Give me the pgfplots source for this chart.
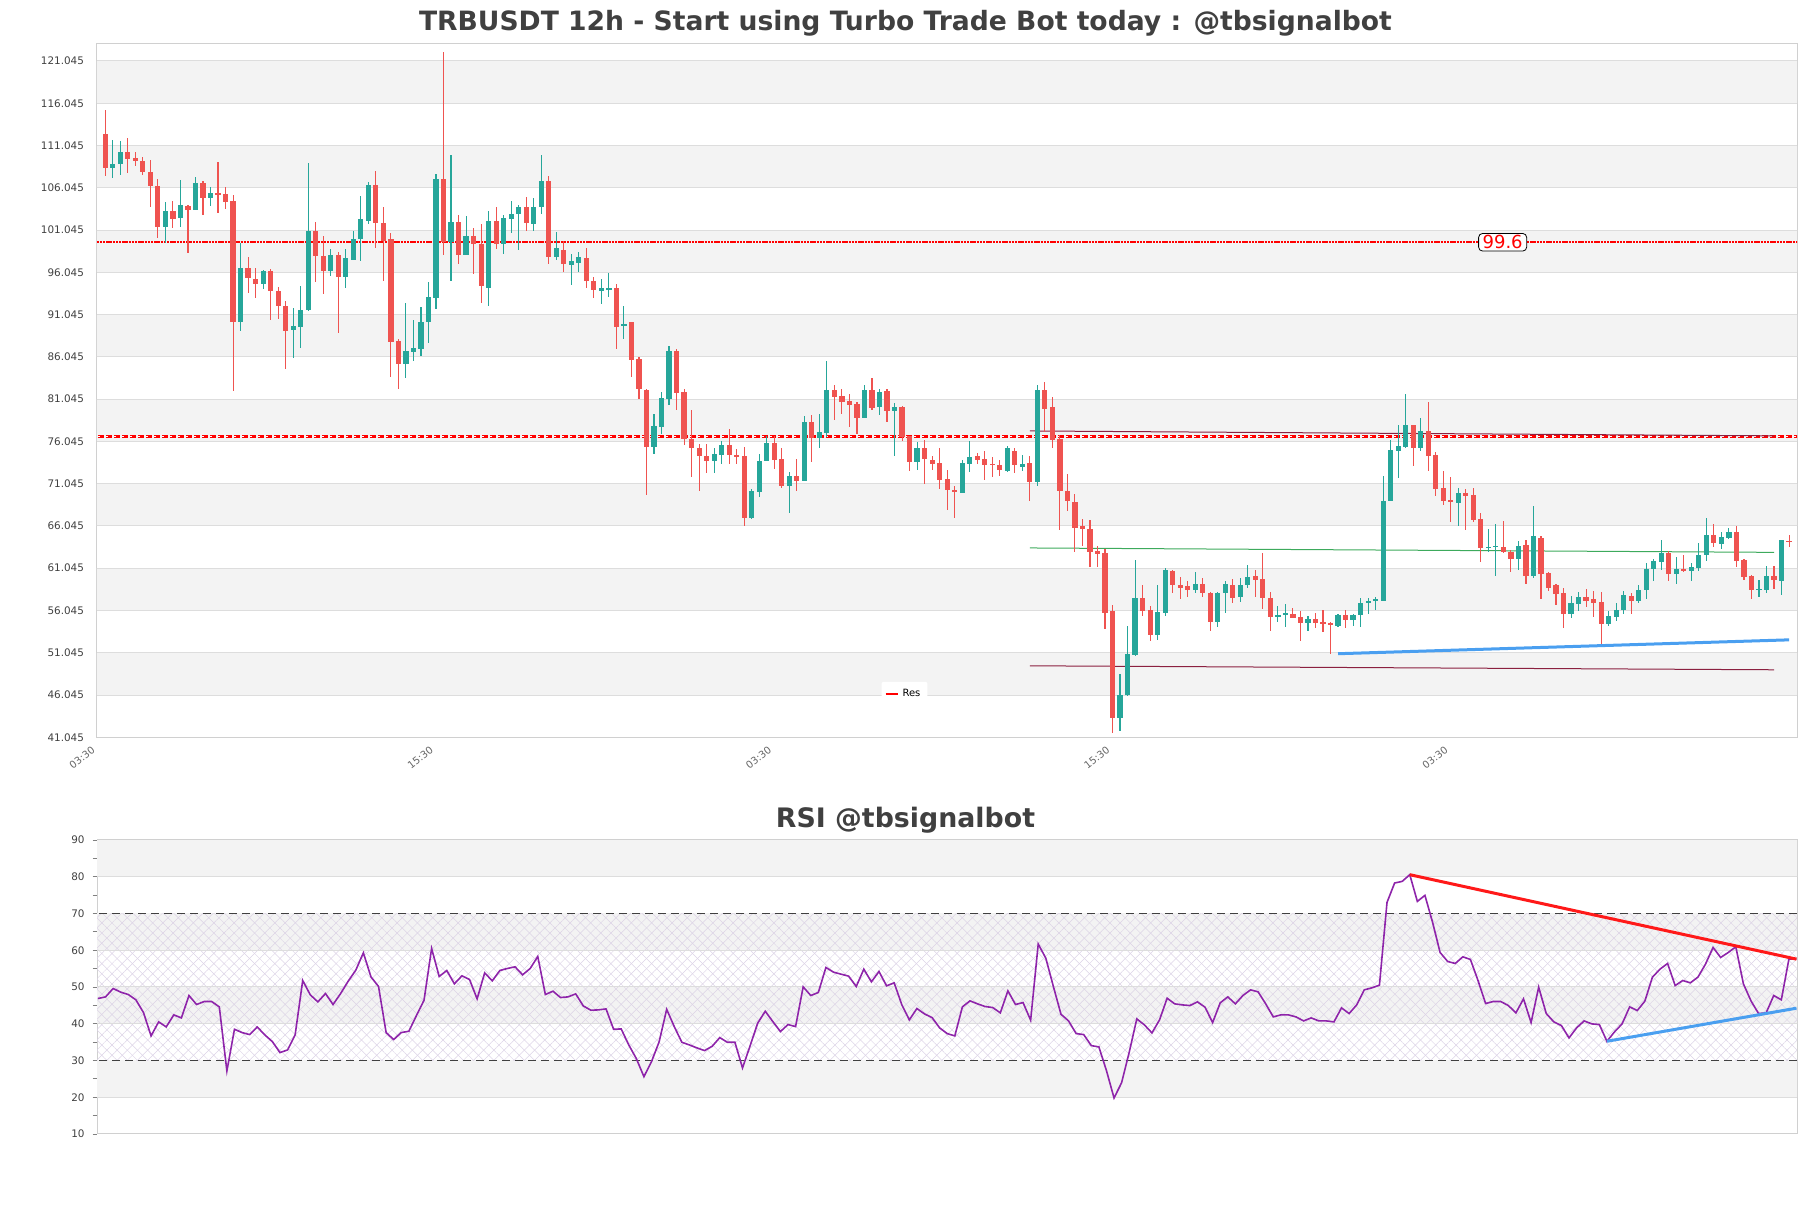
\documentclass[border=0pt]{standalone}
\usepackage{fontspec}
\setmainfont{DejaVu Sans}
\usepackage{pgfplots}
\usepackage{pgfplotstable}
\pgfplotsset{compat=1.18}
\usetikzlibrary{patterns.meta}
\definecolor{cgreen}{HTML}{26A69A}
\definecolor{cred}{HTML}{EF5350}
\definecolor{bandgray}{HTML}{F3F3F3}
\definecolor{gridc}{HTML}{DDDDDD}
\definecolor{framec}{HTML}{D0D0D0}
\definecolor{titlec}{HTML}{404040}
\definecolor{rsic}{HTML}{8E24AA}
\definecolor{maroonl}{HTML}{8B2040}
\definecolor{greenl}{HTML}{3DAA5C}
\definecolor{bluel}{HTML}{4A9FF0}
\definecolor{hatchc}{HTML}{DCD3E6}

\pgfplotstableread{
i o h l c
0 112.39 115.19 107.43 108.43
1 108.43 111.70 107.16 108.85
2 108.90 111.60 107.53 110.28
3 110.28 111.91 107.85 109.49
4 109.59 110.22 108.64 109.17
5 109.27 109.70 107.53 107.95
6 107.90 109.33 103.73 106.21
7 106.26 107.06 100.14 101.46
8 101.46 104.36 99.51 103.31
9 103.31 104.47 101.25 102.30
10 102.46 106.95 101.35 103.99
11 103.89 103.99 98.29 103.47
12 103.47 107.32 103.47 106.63
13 106.63 106.90 102.78 104.79
14 104.79 106.16 103.94 105.42
15 105.37 109.12 103.10 105.26
16 105.26 106.16 103.52 104.42
17 104.47 105.16 81.97 90.11
18 90.11 99.51 89.16 96.55
19 96.55 97.87 93.54 95.34
20 95.28 96.55 93.01 94.70
21 94.70 96.29 94.12 96.23
22 96.23 96.39 90.37 93.80
23 93.86 94.33 90.58 92.01
24 92.06 92.64 84.56 89.16
25 89.26 91.85 85.94 89.69
26 89.63 94.44 87.15 91.59
27 91.53 109.01 91.43 100.93
28 100.93 101.99 94.91 97.92
29 97.92 100.35 93.43 96.23
30 96.23 98.82 95.55 98.08
31 98.08 98.40 88.89 95.44
32 95.44 98.82 94.17 97.76
33 97.55 100.93 97.50 99.98
34 99.93 105.05 97.34 102.36
35 102.15 106.69 101.78 106.37
36 106.37 108.01 98.87 101.88
37 101.83 103.73 95.07 99.77
38 99.98 100.72 83.67 87.84
39 87.89 88.15 82.19 85.25
40 85.25 92.38 83.56 86.73
41 86.57 90.42 85.51 87.04
42 86.94 91.96 86.15 90.16
43 90.11 94.91 87.63 93.12
44 93.06 107.69 91.69 107.11
45 107.11 122.05 98.13 99.61
46 99.61 109.91 94.97 101.99
47 101.99 102.78 96.97 98.13
48 98.13 102.73 98.10 100.35
49 100.35 101.25 95.81 99.40
50 99.40 101.78 92.43 94.38
51 94.23 103.31 92.11 102.15
52 102.15 103.78 98.82 99.35
53 99.35 102.83 98.24 102.52
54 102.41 104.47 100.72 102.94
55 102.89 103.99 98.71 103.78
56 103.78 104.94 100.93 101.83
57 101.72 104.79 100.93 103.78
58 103.73 109.91 102.94 106.85
59 106.85 107.48 97.08 97.82
60 97.82 100.83 97.50 98.87
61 98.71 99.77 96.13 96.97
62 96.97 98.24 94.60 97.34
63 97.18 98.50 96.07 97.82
64 97.76 98.92 94.23 94.97
65 95.02 95.55 93.06 93.91
66 93.80 95.28 92.27 94.17
67 94.07 95.97 93.17 94.17
68 94.17 94.70 86.94 89.63
69 89.69 92.11 88.21 89.95
70 90.11 90.21 83.61 85.73
71 85.78 85.99 81.08 82.19
72 82.14 82.24 69.67 75.43
73 75.43 79.28 74.53 77.91
74 77.80 81.92 76.96 81.13
75 81.03 87.36 80.34 86.68
76 86.78 86.99 79.81 81.82
77 81.92 82.19 75.59 76.33
78 76.38 79.76 71.89 75.22
79 75.32 75.69 70.15 74.27
80 74.32 75.75 72.26 73.69
81 73.69 75.22 72.26 74.58
82 74.48 76.06 73.32 75.64
83 75.64 77.54 73.42 74.43
84 74.37 75.11 73.42 74.27
85 74.32 75.38 66.03 67.03
86 67.03 70.47 66.88 70.20
87 70.10 74.53 69.41 73.69
88 73.69 76.64 73.69 75.85
89 75.85 76.64 72.79 73.90
90 74.00 75.27 70.52 70.73
91 70.73 72.42 67.56 71.98
92 71.95 73.95 70.20 71.42
93 71.36 79.07 71.31 78.33
94 78.33 79.18 73.63 76.49
95 76.43 79.28 75.22 77.12
96 77.07 85.51 76.59 82.14
97 82.14 82.72 78.54 81.29
98 81.45 82.24 79.28 80.71
99 80.87 81.66 77.80 80.34
100 80.50 80.66 76.96 78.86
101 78.81 82.77 78.76 82.14
102 82.14 83.56 79.81 80.02
103 80.08 82.24 79.18 81.92
104 82.03 82.24 78.39 79.60
105 79.60 80.55 74.27 80.08
106 80.08 80.18 76.12 76.54
107 76.64 76.64 72.58 73.58
108 73.58 76.01 72.63 75.32
109 75.32 76.22 71.05 73.95
110 73.90 74.37 72.63 73.42
111 73.48 75.22 70.41 71.52
112 71.63 72.68 67.98 70.31
113 70.31 70.73 66.93 70.04
114 69.99 73.90 69.89 73.53
115 73.42 76.12 72.37 74.21
116 74.27 74.69 73.37 73.79
117 74.00 74.90 71.52 73.26
118 73.37 74.21 71.84 73.26
119 73.26 73.90 72.00 72.63
120 72.58 75.53 72.47 75.22
121 74.95 75.32 72.31 73.21
122 73.06 74.43 72.53 73.42
123 73.48 74.27 69.04 71.20
124 71.26 82.72 70.73 82.08
125 82.08 83.03 77.17 79.92
126 80.08 81.29 75.27 76.17
127 76.38 76.86 65.61 70.20
128 70.20 72.21 67.83 68.99
129 68.88 69.78 62.97 65.77
130 65.98 66.82 63.71 65.66
131 65.71 66.77 61.23 62.92
132 63.07 63.71 61.23 62.70
133 62.81 63.34 53.83 55.79
134 55.95 56.69 41.53 43.33
135 43.33 48.55 41.80 46.07
136 46.02 54.20 45.97 50.88
137 50.82 62.02 50.67 57.58
138 57.58 59.01 55.37 56.00
139 56.11 56.63 52.41 53.15
140 53.15 59.01 52.51 55.90
141 55.74 61.07 55.42 60.80
142 60.70 60.80 58.11 59.01
143 59.11 60.01 57.37 58.75
144 58.96 59.48 57.58 58.48
145 58.48 60.59 58.06 59.22
146 59.22 59.85 57.63 58.06
147 58.16 58.27 53.62 54.63
148 54.63 58.27 54.10 58.11
149 58.06 59.48 55.79 59.17
150 59.11 59.75 56.90 57.53
151 57.63 59.91 57.00 59.11
152 59.01 61.38 58.75 60.01
153 60.07 60.86 57.63 59.64
154 59.80 62.86 56.21 57.53
155 57.58 58.22 53.67 55.31
156 55.31 56.58 54.63 55.53
157 55.53 56.79 54.05 55.68
158 55.63 56.32 55.10 55.21
159 55.31 55.95 52.41 54.57
160 54.57 55.42 53.67 55.00
161 55.00 55.79 53.94 54.57
162 54.68 56.05 53.46 54.52
163 54.52 54.73 50.93 54.31
164 54.26 55.68 54.05 55.53
165 55.53 56.05 53.94 54.89
166 54.89 55.68 54.26 55.53
167 55.53 57.53 54.10 56.90
168 56.90 57.53 55.63 57.21
169 57.11 57.69 56.16 57.37
170 57.21 71.95 57.16 68.99
171 68.99 76.27 68.99 75.06
172 74.95 77.96 71.73 75.53
173 75.38 81.66 75.22 78.02
174 78.02 78.02 73.11 75.22
175 75.22 78.76 74.95 77.22
176 77.22 80.66 72.58 74.27
177 74.43 74.80 69.57 70.36
178 70.52 72.52 68.51 68.99
179 69.15 71.79 66.51 68.88
180 68.72 70.52 65.98 69.89
181 69.94 70.47 65.56 69.62
182 69.68 70.52 66.51 66.77
183 66.88 67.56 61.76 63.44
184 63.44 65.66 62.92 63.60
185 63.55 66.24 60.17 63.71
186 63.60 66.66 62.81 62.92
187 62.97 63.18 60.54 62.13
188 62.13 64.29 60.86 63.71
189 63.81 64.34 59.22 60.17
190 60.17 68.46 59.91 64.82
191 64.66 64.82 57.37 60.33
192 60.43 60.59 58.32 58.75
193 59.01 59.17 56.74 57.95
194 58.06 58.69 53.94 55.58
195 55.58 57.79 55.15 56.90
196 56.85 58.22 55.95 57.63
197 57.69 58.64 56.48 57.21
198 57.37 58.32 55.31 56.90
199 57.05 58.22 51.99 54.47
200 54.47 55.95 54.20 55.42
201 55.31 56.90 54.79 56.11
202 56.05 58.32 55.68 57.90
203 57.79 58.16 55.68 57.16
204 57.21 59.01 56.90 58.48
205 58.43 61.65 57.42 60.96
206 60.96 62.13 59.59 61.86
207 61.76 64.34 60.80 62.81
208 62.81 63.07 59.48 60.33
209 60.33 62.39 59.22 60.96
210 60.96 62.55 60.54 60.70
211 60.75 61.65 59.48 61.23
212 61.12 64.03 60.70 62.60
213 62.55 66.98 61.86 64.92
214 64.92 66.24 63.50 63.97
215 63.87 65.29 63.28 64.76
216 64.66 65.82 64.55 65.34
217 65.34 65.98 61.23 61.86
218 62.02 62.13 59.64 60.01
219 60.17 60.28 57.42 58.43
220 58.48 59.64 57.69 58.59
221 58.48 61.33 58.06 60.07
222 60.07 61.33 58.59 59.64
223 59.59 64.39 57.90 64.34
224 64.29 64.92 63.50 64.13
}\candles

\begin{document}
\begin{tikzpicture}
\useasboundingbox (0,0) rectangle (905.5pt,604pt);
\node[font=\fontsize{13.3}{15}\selectfont\bfseries, text=titlec] at (452.75pt,592.5pt) {TRBUSDT 12h - Start using Turbo Trade Bot today : @tbsignalbot};
\node[font=\fontsize{13.4}{15}\selectfont\bfseries, text=titlec] at (452.75pt,194pt) {RSI @tbsignalbot};

\begin{axis}[
  at={(48.5pt,235.35pt)}, anchor=south west, scale only axis,
  width=850pt, height=346.85pt,
  xmin=-1.1, xmax=225.06, ymin=41.045, ymax=123.1,
  axis line style={framec, line width=0.5pt},
  ytick={41.045,46.045,51.045,56.045,61.045,66.045,71.045,76.045,81.045,86.045,91.045,96.045,101.045,106.045,111.045,116.045,121.045},
  yticklabels={41.045,46.045,51.045,56.045,61.045,66.045,71.045,76.045,81.045,86.045,91.045,96.045,101.045,106.045,111.045,116.045,121.045},
  xtick={-1,44,89,134,179},
  xticklabels={03:30,15:30,03:30,15:30,03:30},
  major tick length=0pt,
  /pgf/number format/assume math mode=true,
  yticklabel style={font=\fontsize{5.2}{6}\selectfont, text=titlec, xshift=-3pt},
  xticklabel style={font=\fontsize{5}{6}\selectfont, text=titlec!80, rotate=38, anchor=north east, inner sep=1pt, xshift=-4pt},
  legend style={at={(0.475,0.0624)}, anchor=center, draw=none, fill=white, font=\fontsize{5}{6}\selectfont, inner sep=1.5pt, rounded corners=1pt},
  legend image code/.code={\draw[#1] (0pt,0pt) -- (6pt,0pt);},
]
\fill[bandgray] (axis cs:-5,116.045) rectangle (axis cs:230,121.045);
\fill[bandgray] (axis cs:-5,106.045) rectangle (axis cs:230,111.045);
\fill[bandgray] (axis cs:-5,96.045) rectangle (axis cs:230,101.045);
\fill[bandgray] (axis cs:-5,86.045) rectangle (axis cs:230,91.045);
\fill[bandgray] (axis cs:-5,76.045) rectangle (axis cs:230,81.045);
\fill[bandgray] (axis cs:-5,66.045) rectangle (axis cs:230,71.045);
\fill[bandgray] (axis cs:-5,56.045) rectangle (axis cs:230,61.045);
\fill[bandgray] (axis cs:-5,46.045) rectangle (axis cs:230,51.045);
\pgfplotsinvokeforeach{46.045,51.045,56.045,61.045,66.045,71.045,76.045,81.045,86.045,91.045,96.045,101.045,106.045,111.045,116.045,121.045}{
  \draw[gridc, line width=0.5pt] (axis cs:-5,#1) -- (axis cs:230,#1);
}
\addlegendimage{red, line width=1pt}
\addlegendentry{Res}
\addplot[red, line width=1pt, dash pattern=on 1.2pt off 0.4pt, forget plot] coordinates {(-2,99.6) (226,99.6)};
\addplot[red, line width=1.4pt, dash pattern=on 3pt off 1pt, forget plot] coordinates {(-2,76.6) (226,76.6)};
\addplot[white, line width=0.45pt, dash pattern=on 1pt off 3pt, forget plot] coordinates {(-2,76.6) (226,76.6)};
\addplot[maroonl, line width=0.5pt, forget plot] coordinates {(123,77.28) (222,76.7)};
\addplot[greenl, line width=0.5pt, forget plot] coordinates {(123,63.44) (222,62.92)};
\addplot[maroonl, line width=0.5pt, forget plot] coordinates {(123,49.5) (222,49.03)};
% wicks
\addplot[draw=none, mark=none, forget plot,
  restrict expr to domain={\thisrow{c}-\thisrow{o}}{0:1000},
  error bars/.cd, y dir=both, y explicit, error mark=none,
  error bar style={line width=0.55pt, draw=cgreen}]
  table[x=i, y expr={(\thisrow{h}+\thisrow{l})/2}, y error expr={(\thisrow{h}-\thisrow{l})/2}] {\candles};
\addplot[draw=none, mark=none, forget plot,
  restrict expr to domain={\thisrow{c}-\thisrow{o}}{-1000:-0.00001},
  error bars/.cd, y dir=both, y explicit, error mark=none,
  error bar style={line width=0.55pt, draw=cred}]
  table[x=i, y expr={(\thisrow{h}+\thisrow{l})/2}, y error expr={(\thisrow{h}-\thisrow{l})/2}] {\candles};
% bodies
\addplot[draw=none, mark=none, forget plot,
  restrict expr to domain={\thisrow{c}-\thisrow{o}}{0:1000},
  error bars/.cd, y dir=both, y explicit, error mark=none,
  error bar style={line width=2.6pt, draw=cgreen}]
  table[x=i, y expr={(\thisrow{o}+\thisrow{c})/2}, y error expr={max(abs(\thisrow{c}-\thisrow{o})/2,0.09)}] {\candles};
\addplot[draw=none, mark=none, forget plot,
  restrict expr to domain={\thisrow{c}-\thisrow{o}}{-1000:-0.00001},
  error bars/.cd, y dir=both, y explicit, error mark=none,
  error bar style={line width=2.6pt, draw=cred}]
  table[x=i, y expr={(\thisrow{o}+\thisrow{c})/2}, y error expr={max(abs(\thisrow{c}-\thisrow{o})/2,0.09)}] {\candles};
\addplot[bluel, line width=1.5pt, forget plot] coordinates {(164,50.93) (224,52.57)};
\node[draw=black, line width=0.4pt, rounded corners=2pt, fill=white, text=red, font=\fontsize{9}{10}\selectfont, inner sep=1pt, inner xsep=2pt] at (axis cs:185.9,99.6) {99.6};
\end{axis}

\begin{axis}[
  at={(48.5pt,37pt)}, anchor=south west, scale only axis,
  width=850pt, height=147pt,
  xmin=-0.13, xmax=224.07, ymin=10, ymax=90,
  axis line style={framec, line width=0.5pt},
  xtick=\empty,
  ytick={10,20,...,90}, minor ytick={15,25,...,85},
  ytick pos=left, tick align=outside,
  major tick length=2.2pt, minor tick length=2.2pt,
  tick style={color=gray, line width=0.4pt},
  /pgf/number format/assume math mode=true,
  yticklabel style={font=\fontsize{5.2}{6}\selectfont, text=titlec, xshift=-0.5pt},
]
\fill[bandgray] (axis cs:-5,80) rectangle (axis cs:230,90);
\fill[bandgray] (axis cs:-5,60) rectangle (axis cs:230,70);
\fill[bandgray] (axis cs:-5,40) rectangle (axis cs:230,50);
\fill[bandgray] (axis cs:-5,20) rectangle (axis cs:230,30);
\fill[pattern={Lines[angle=45,distance=3.6pt,line width=0.25pt]}, pattern color=hatchc] (axis cs:-5,30) rectangle (axis cs:230,70);
\fill[pattern={Lines[angle=-45,distance=3.6pt,line width=0.25pt]}, pattern color=hatchc] (axis cs:-5,30) rectangle (axis cs:230,70);
\pgfplotsinvokeforeach{20,40,50,60,80}{
  \draw[gridc, line width=0.5pt] (axis cs:-5,#1) -- (axis cs:230,#1);
}
\draw[black!75, line width=0.5pt, dash pattern=on 4pt off 2.5pt] (axis cs:-5,70) -- (axis cs:230,70);
\draw[black!75, line width=0.5pt, dash pattern=on 4pt off 2.5pt] (axis cs:-5,30) -- (axis cs:230,30);
\addplot[rsic, line width=0.8pt] coordinates {
(0,46.86) (1,47.31) (2,49.59) (3,48.59) (4,47.95) (5,46.50) (6,43.05) (7,36.69) (8,40.50) (9,39.14)
(10,42.41) (11,41.59) (12,47.68) (13,45.23) (14,46.04) (15,46.04) (16,44.59) (17,27.15) (18,38.50) (19,37.60)
(20,37.05) (21,39.14) (22,36.96) (23,35.14) (24,32.15) (25,32.87) (26,36.96) (27,51.76) (28,47.86) (29,45.95)
(30,48.22) (31,45.23) (32,48.22) (33,51.58) (34,54.58) (35,59.30) (36,52.76) (37,50.13) (38,37.60) (39,35.69)
(40,37.60) (41,37.96) (42,42.23) (43,46.41) (44,60.48) (45,52.86) (46,54.49) (47,50.86) (48,53.04) (49,52.04)
(50,46.77) (51,53.85) (52,51.67) (53,54.49) (54,55.04) (55,55.49) (56,53.31) (57,55.04) (58,58.30) (59,47.95)
(60,48.86) (61,47.13) (62,47.31) (63,48.13) (64,44.86) (65,43.68) (66,43.77) (67,44.04) (68,38.50) (69,38.59)
(70,34.23) (71,30.51) (72,25.61) (73,29.69) (74,35.05) (75,43.91) (76,39.23) (77,34.96) (78,34.23) (79,33.42)
(80,32.69) (81,33.87) (82,36.23) (83,34.96) (84,34.96) (85,27.97) (86,33.96) (87,40.14) (88,43.41) (89,40.59)
(90,37.87) (91,39.78) (92,39.23) (93,50.04) (94,47.68) (95,48.50) (96,55.31) (97,54.04) (98,53.49) (99,52.95)
(100,50.13) (101,54.85) (102,51.40) (103,54.22) (104,50.31) (105,51.13) (106,45.23) (107,41.05) (108,44.14) (109,42.68)
(110,41.68) (111,38.87) (112,37.32) (113,36.69) (114,44.59) (115,46.22) (116,45.41) (117,44.68) (118,44.41) (119,42.96)
(120,48.95) (121,45.23) (122,45.77) (123,40.96) (124,61.67) (125,57.85) (126,50.13) (127,42.59) (128,40.77) (129,37.32)
(130,37.05) (131,34.05) (132,33.69) (133,27.24) (134,19.79) (135,23.97) (136,32.24) (137,41.32) (138,39.69) (139,37.50)
(140,41.05) (141,46.95) (142,45.41) (143,45.13) (144,44.95) (145,45.95) (146,44.50) (147,40.32) (148,45.68) (149,47.31)
(150,45.41) (151,47.68) (152,49.22) (153,48.68) (154,45.41) (155,41.86) (156,42.41) (157,42.41) (158,41.86) (159,40.77)
(160,41.59) (161,40.77) (162,40.77) (163,40.50) (164,44.32) (165,42.77) (166,45.13) (167,49.22) (168,49.77) (169,50.49)
(170,73.02) (171,78.29) (172,78.74) (173,80.56) (174,73.29) (175,74.93) (176,67.66) (177,59.39) (178,56.94) (179,56.40)
(180,58.21) (181,57.49) (182,51.76) (183,45.50) (184,46.04) (185,46.04) (186,44.95) (187,42.96) (188,46.77) (189,40.32)
(190,49.95) (191,42.77) (192,40.50) (193,39.50) (194,36.14) (195,38.87) (196,40.77) (197,39.96) (198,39.78) (199,35.23)
(200,37.78) (201,39.96) (202,44.59) (203,43.59) (204,46.13) (205,52.67) (206,54.85) (207,56.40) (208,50.40) (209,51.76)
(210,51.13) (211,52.67) (212,56.22) (213,60.76) (214,58.03) (215,59.39) (216,60.94) (217,50.86) (218,46.22) (219,42.77)
(220,42.96) (221,47.68) (222,46.50) (223,57.58) (224,57.58)
};
\addplot[red!90!white, line width=1.5pt] coordinates {(173,80.56) (224,57.58)};
\addplot[bluel, line width=1.5pt] coordinates {(199,35.23) (224,44.23)};
\end{axis}
\end{tikzpicture}
\end{document}
